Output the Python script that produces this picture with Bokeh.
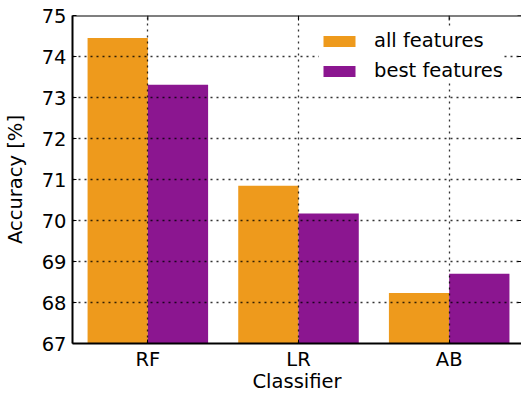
from bokeh.plotting import figure
from bokeh.models import (Range1d, FixedTicker, Span, Legend, LegendItem,
                          ColumnDataSource)
from bokeh.transform import dodge
from bokeh.embed import file_html
from bokeh.resources import INLINE

# Classification accuracy per classifier, with all vs. selected features
classifiers = ["RF", "LR", "AB"]
all_features = [74.45, 70.85, 68.23]
best_features = [73.31, 70.17, 68.70]
y_ticks = [67, 68, 69, 70, 71, 72, 73, 74, 75]

ORANGE = "#EE9A1C"
PURPLE = "#8B1690"
FONT = "DejaVu Sans"
FS = "19.5px"

W, H = 521, 395
xs = list(range(len(classifiers)))
src = ColumnDataSource(dict(x=xs, all=all_features, best=best_features))

x_range = Range1d(-0.5, 2.48)
y_range = Range1d(y_ticks[0], y_ticks[-1])
p = figure(width=W, height=H, x_range=x_range, y_range=y_range,
           output_backend="svg", toolbar_location=None,
           min_border_left=0, min_border_right=0,
           min_border_top=15, min_border_bottom=0)
p.outline_line_color = None
p.background_fill_color = "white"
p.border_fill_color = "white"

r_all = p.vbar(x=dodge("x", -0.2), top="all", bottom=y_range.start, width=0.4,
               fill_color=ORANGE, line_color=None, source=src)
r_best = p.vbar(x=dodge("x", 0.2), top="best", bottom=y_range.start, width=0.4,
                fill_color=PURPLE, line_color=None, source=src)

# axes
p.xaxis.ticker = FixedTicker(ticks=xs)
p.xaxis.major_label_overrides = {i: c for i, c in enumerate(classifiers)}
p.yaxis.ticker = FixedTicker(ticks=y_ticks)
p.xaxis.axis_label = "Classifier"
p.yaxis.axis_label = "Accuracy [%]"
for ax in (p.xaxis[0], p.yaxis[0]):
    ax.axis_line_color = "black"
    ax.axis_line_width = 2
    ax.major_tick_in = 4
    ax.major_tick_out = 0
    ax.major_tick_line_color = "black"
    ax.minor_tick_line_color = None
    ax.major_label_text_font = FONT
    ax.major_label_text_font_size = FS
    ax.major_label_text_color = "black"
    ax.axis_label_text_font = FONT
    ax.axis_label_text_font_size = FS
    ax.axis_label_text_font_style = "normal"
    ax.axis_label_text_color = "black"
p.yaxis.major_label_standoff = 6
p.yaxis.axis_label_standoff = 12
p.xaxis.major_label_standoff = 4
p.xaxis.axis_label_standoff = -4

# short inward ticks along the top and right edges
x_per_px = (x_range.end - x_range.start) / (W - 69)
y_per_px = (y_range.end - y_range.start) / (343 - 15)
p.segment(x0=[x_range.end] * len(y_ticks), x1=[x_range.end - 4 * x_per_px] * len(y_ticks),
          y0=y_ticks, y1=y_ticks, line_color="black", line_width=1)
p.segment(x0=xs, x1=xs, y0=[y_range.end] * len(xs),
          y1=[y_range.end - 5 * y_per_px] * len(xs), line_color="black", line_width=1)

# dotted grid drawn over the bars
for g in (p.xgrid[0], p.ygrid[0]):
    g.level = "guide"
    g.grid_line_color = "black"
    g.grid_line_width = 1.3
    g.grid_line_dash = "2 4"
    g.grid_line_alpha = 0.8
p.xgrid.ticker = FixedTicker(ticks=xs)
p.ygrid.ticker = FixedTicker(ticks=y_ticks)

# top spine
p.add_layout(Span(location=y_range.end, dimension="width", line_color="black", line_width=2))

legend = Legend(items=[LegendItem(label="all features", renderers=[r_all]),
                       LegendItem(label="best features", renderers=[r_best])],
                location=(247, 261))
legend.border_line_color = None
legend.background_fill_color = "white"
legend.background_fill_alpha = 1
legend.label_text_font = FONT
legend.label_text_font_size = FS
legend.label_text_color = "black"
legend.glyph_width = 40
legend.glyph_height = 14
legend.label_standoff = 15
legend.spacing = 7
legend.padding = 12
legend.margin = 0
p.add_layout(legend)

open("out.html", "w").write(file_html(p, INLINE))
